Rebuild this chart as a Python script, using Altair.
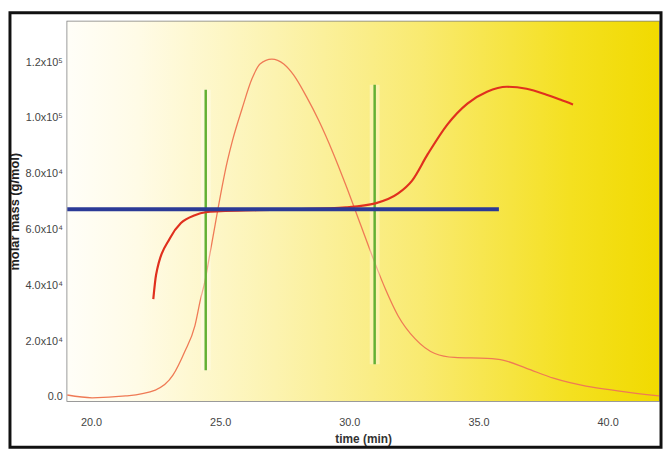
import altair as alt
import pandas as pd

# ---------------- data ----------------
# concentration (detector) trace, thin orange line
conc_time = [19.08, 20.04, 21.34, 22.49, 23.17, 23.63, 24.02, 24.24, 24.40, 24.63,
             25.28, 25.47, 25.85, 26.23, 26.54, 27.00, 27.46, 27.84, 28.34, 28.83,
             29.37, 29.87, 30.44, 30.94, 31.40, 31.89, 32.54, 33.31, 34.07, 35.33,
             35.98, 36.86, 37.90, 39.16, 40.46, 41.99]
conc_value = [700, -300, 350, 2480, 7790, 16280, 25490, 35050, 41060, 52750,
              84600, 91690, 103370, 113990, 119300, 121070, 119300, 115400, 107600, 98770,
              87440, 75760, 61600, 49210, 38590, 29030, 20890, 15580, 14160, 13810,
              13100, 10270, 6730, 3890, 2120, 350]

# molar mass trace, thick red line
mm_time = [22.41, 22.52, 23.06, 23.48, 24.02, 24.44, 25.01, 26.42, 27.95, 29.87,
           31.01, 31.89, 32.43, 33.04, 33.80, 34.57, 35.33, 36.10, 36.86, 37.63,
           38.16, 38.66]
mm_value = [35050, 43900, 56990, 62300, 65140, 66200, 66550, 66910, 67260, 67970,
            69380, 72920, 77530, 87080, 97700, 105140, 109390, 111160, 110450, 108320,
            106550, 104780]

# horizontal reference (blue)
ref_time = [19.08, 35.79]
ref_value = [67260, 67260]

# vertical integration limits (green)
limit_time = [24.44, 30.98]
limit_low = [9560, 11680]
limit_high = [110090, 111860]

x_tick_values = [20, 25, 30, 35, 40]
y_tick_values = [0, 20000, 40000, 60000, 80000, 100000, 120000]
y_tick_labels = ["0.0", "2.0x10\u2074", "4.0x10\u2074", "6.0x10\u2074",
                 "8.0x10\u2074", "1.0x10\u2075", "1.2x10\u2075"]

X_DOMAIN = [19.08, 41.99]
Y_DOMAIN = [-1416, 134520]
W, H = 599, 384

conc_df = pd.DataFrame({"time": conc_time, "value": conc_value})
mm_df = pd.DataFrame({"time": mm_time, "value": mm_value})
ref_df = pd.DataFrame({"time": ref_time, "value": ref_value})
lim_df = pd.DataFrame({"time": limit_time, "low": limit_low, "high": limit_high})

y_label_expr = " : ".join(
    f"datum.value == {v} ? '{t}'" for v, t in zip(y_tick_values, y_tick_labels)
) + " : ''"

FONT = "Liberation Sans"

x_enc = alt.X(
    "time:Q",
    scale=alt.Scale(domain=X_DOMAIN, nice=False, zero=False),
    axis=alt.Axis(
        title="time (min)", values=x_tick_values, format=".1f", grid=False,
        domain=False, ticks=False, labelPadding=16, labelFontSize=11,
        labelColor="#444", labelFont=FONT, titleFont=FONT, titleFontSize=12,
        titleFontWeight="bold", titleColor="#333", titlePadding=6,
    ),
)
y_scale = alt.Scale(domain=Y_DOMAIN, nice=False, zero=False)
y_enc = alt.Y(
    "value:Q",
    scale=y_scale,
    axis=alt.Axis(
        title="molar mass (g/mol)", values=y_tick_values, labelExpr=y_label_expr,
        grid=False, domain=False, ticks=False, labelPadding=5, labelFontSize=11,
        labelColor="#444", labelFont=FONT, titleFont=FONT, titleFontSize=13,
        titleFontWeight="bold", titleColor="#222",
        titleX=-59, titleY=H / 2, titleBaseline="top", titleAngle=270,
    ),
)

one_row = pd.DataFrame({"k": [0]})

background = alt.Chart(one_row).mark_rect(
    fill=alt.LinearGradient(
        gradient="linear",
        stops=[
            alt.GradientStop(offset=0.0, color="#fffef8"),
            alt.GradientStop(offset=0.12, color="#fffbe6"),
            alt.GradientStop(offset=0.35, color="#fcf3b0"),
            alt.GradientStop(offset=0.6, color="#f9ea70"),
            alt.GradientStop(offset=0.85, color="#f4e020"),
            alt.GradientStop(offset=1.0, color="#f1da00"),
        ],
        x1=0, x2=1, y1=0, y2=0,
    )
).encode(x=alt.value(0), x2=alt.value(W), y=alt.value(0), y2=alt.value(H))

conc_line = alt.Chart(conc_df).mark_line(
    color="#ef7a55", strokeWidth=1.3, interpolate="monotone"
).encode(x=x_enc, y=y_enc)

glow = alt.Chart(lim_df).mark_rule(color="#ffffff", strokeWidth=10, opacity=0.35).encode(
    x="time:Q", y=alt.Y("low:Q", scale=y_scale), y2="high:Q"
)
limits = alt.Chart(lim_df).mark_rule(color="#62b035", strokeWidth=2.5).encode(
    x="time:Q", y=alt.Y("low:Q", scale=y_scale), y2="high:Q"
)

mm_line = alt.Chart(mm_df).mark_line(
    color="#e0301e", strokeWidth=2.2, interpolate="monotone"
).encode(x="time:Q", y="value:Q")

ref_line = alt.Chart(ref_df).mark_line(color="#2b3a96", strokeWidth=4).encode(
    x="time:Q", y="value:Q"
)

frame = alt.Chart(one_row).mark_rect(
    fill="transparent", stroke="#111111", strokeWidth=3
).encode(x=alt.value(-58), x2=alt.value(W + 2), y=alt.value(-9), y2=alt.value(H + 47))

chart = alt.layer(
    background, conc_line, glow, limits, mm_line, ref_line, frame
).properties(
    width=W, height=H,
    autosize=alt.AutoSizeParams(type="none"),
    padding={"left": 60, "top": 11, "right": 4, "bottom": 49},
    background="white",
).configure_view(stroke="#7a7a7a", strokeWidth=1.5)

chart.save("out.html", embed_options={"renderer": "svg", "actions": False})
